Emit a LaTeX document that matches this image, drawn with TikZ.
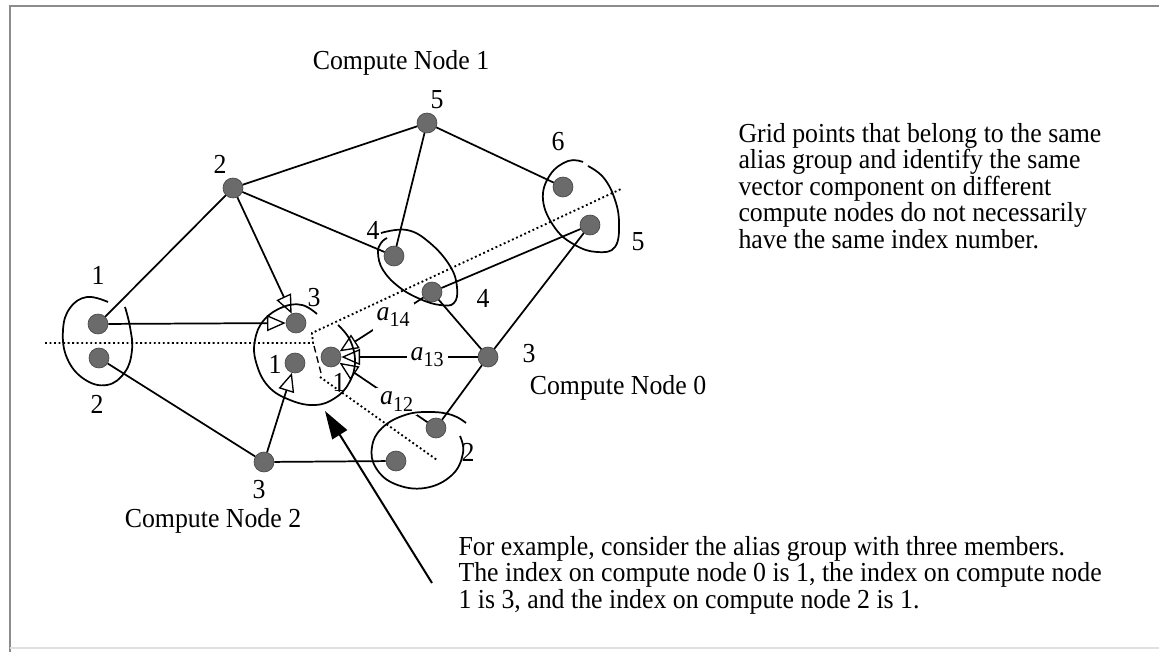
\documentclass[tikz,border=0pt]{standalone}
\usepackage{fontspec}
\setmainfont{Liberation Serif}[FakeStretch=0.94]
\usetikzlibrary{arrows.meta}

\newcommand{\lblfont}{\fontsize{20.6}{19.8}\selectfont}
\newcommand{\coefname}[1]{\textit{a}\raisebox{-0.5ex}{\fontsize{16}{16}\selectfont #1}}

\tikzset{every picture/.style={line width=0.75pt}}
\tikzset{
  gpt/.style={circle, fill=black!58, draw=black!72, line width=0.5pt, inner sep=0pt, minimum size=15pt},
  num/.style={font=\lblfont, inner sep=1pt},
  link/.style={line width=1.3pt},
  tri/.style={link, -{Triangle[open, length=14pt, width=12pt, line width=1pt]}},
  alias/.style={line width=1.3pt},
  part/.style={line width=1.4pt, dash pattern=on 1.4pt off 2pt},
  coef/.style={font=\lblfont, fill=white, inner sep=3pt},
}

\begin{document}
\begin{tikzpicture}[x=0.75pt,y=0.75pt,yscale=-1,xscale=1]
	\useasboundingbox (0,0) rectangle (1159,652);

	%Frame
	\draw [black!45, line width=1.2pt] (10,652) -- (10,6) -- (1159,6) ;
	\draw [black!12, line width=0.8pt] (10,648) -- (1159,648) ;

	%Grid points: compute node 1
	\node [gpt] (c1a) at (98,324) {};
	\node [gpt] (c1b) at (233,188) {};
	\node [gpt] (c1c) at (296,323) {};
	\node [gpt] (c1d) at (394,256) {};
	\node [gpt] (c1e) at (427,123) {};
	\node [gpt] (c1f) at (563,187) {};
	%Grid points: compute node 0
	\node [gpt] (c0a) at (331,357) {};
	\node [gpt] (c0b) at (436,428) {};
	\node [gpt] (c0c) at (488,357) {};
	\node [gpt] (c0d) at (432,292) {};
	\node [gpt] (c0e) at (590,225) {};
	%Grid points: compute node 2
	\node [gpt] (c2a) at (295,363) {};
	\node [gpt] (c2b) at (99,358) {};
	\node [gpt] (c2c) at (264,462) {};
	\node [gpt] (c2d) at (396,461) {};

	%Edges
	\draw [link] (c1a) -- (c1b) ;
	\draw [link] (c1b) -- (c1e) ;
	\draw [link] (c1b) -- (c1d) ;
	\draw [link] (c1e) -- (c1d) ;
	\draw [link] (c1e) -- (c1f) ;
	\draw [tri] (c1b) -- (c1c) ;
	\draw [tri] (c1a) -- (c1c) ;
	\draw [link] (c0d) -- (c0c) ;
	\draw [link] (c0c) -- (c0e) ;
	\draw [link] (c0c) -- (c0b) ;
	\draw [link] (c0e) -- (c0d) ;
	\draw [link] (c2b) -- (c2c) ;
	\draw [link] (c2c) -- (c2d) ;
	\draw [tri] (c2c) -- (c2a) ;
	\draw [tri] (c0c) -- node [coef, pos=0.37] (a13) {\coefname{13}} (c0a) ;
	\draw [tri] (c0d) -- node [coef, pos=0.36] (a14) {\coefname{14}} (c0a) ;
	\draw [tri] (c0b) -- node [coef, pos=0.35] (a12) {\coefname{12}} (c0a) ;

	%Shape: alias groups
	\draw [alias] plot [smooth, tension=0.7] coordinates {(125,307) (130,327) (132,350) (125,372) (107,385) (84,379) (67,358) (63,330) (70,308) (87,297) (108,302)} ;
	\draw [alias] plot [smooth, tension=0.7] coordinates {(338,325) (350,340) (355,362) (349,383) (335,398) (315,405) (290,400) (268,386) (256,362) (255,340) (264,320) (283,307) (302,305) (317,314)} ;
	\draw [alias] plot [smooth, tension=0.7] coordinates {(381,233) (407,230) (430,243) (450,266) (457,287) (454,303) (440,305) (420,299) (399,287) (383,270) (378,253) (381,243) (387,238)} ;
	\draw [alias] plot [smooth, tension=0.7] coordinates {(588,166) (603,177) (614,197) (619,222) (615,247) (597,252) (575,245) (555,228) (543,200) (550,175) (568,161) (583,162)} ;
	\draw [alias] plot [smooth, tension=0.7] coordinates {(460,436) (463,453) (452,475) (425,488) (395,484) (376,468) (372,447) (382,428) (405,415) (430,412) (452,415) (466,423)} ;

	%Partition lines
	\draw [part] (45,343) -- (313,343) -- (312,333) -- (621,189) ;
	\draw [part] (320,377) -- (437,460) ;
	\draw [line width=1pt, dash pattern=on 5pt off 3pt] (314,346) -- (321,373) ;

	%Pointer arrow
	\coordinate (ptail) at (432,583) ;
	\coordinate (ptip) at (325,411) ;
	\draw [line width=1.5pt, -{Triangle[length=21pt, width=13pt]}] (ptail) -- (ptip) ;

	% Text Node
	\node [num] (l1a) at (98,275) {1};
	\node [num] (l1b) at (220,164) {2};
	\node [num] (l1c) at (314,298) {3};
	\node [num] (l1d) at (373,230) {4};
	\node [num] (l1e) at (437,100) {5};
	\node [num] (l1f) at (558,142) {6};
	\node [num] (l0a) at (339,382) {1};
	\node [num] (l0b) at (468,452) {2};
	\node [num] (l0c) at (529,354) {3};
	\node [num] (l0d) at (483,298) {4};
	\node [num] (l0e) at (638,242) {5};
	\node [num] (l2a) at (275,364) {1};
	\node [num] (l2b) at (97,404) {2};
	\node [num] (l2c) at (259,490) {3};

	\node [num] (cn1) at (401,63) {Compute Node 1};
	\node [num] (cn0) at (618,388) {Compute Node 0};
	\node [num] (cn2) at (213,521) {Compute Node 2};

	\node [font=\lblfont, anchor=west, align=left, inner sep=0pt] (note) at (738,186) {Grid points that belong to the same\\alias group and identify the same\\vector component on different\\compute nodes do not necessarily\\have the same index number.};
	\node [font=\lblfont, anchor=west, align=left, inner sep=0pt] (example) at (458,575) {For example, consider the alias group with three members.\\The index on compute node 0 is 1, the index on compute node\\1 is 3, and the index on compute node 2 is 1.};

\end{tikzpicture}
\end{document}
